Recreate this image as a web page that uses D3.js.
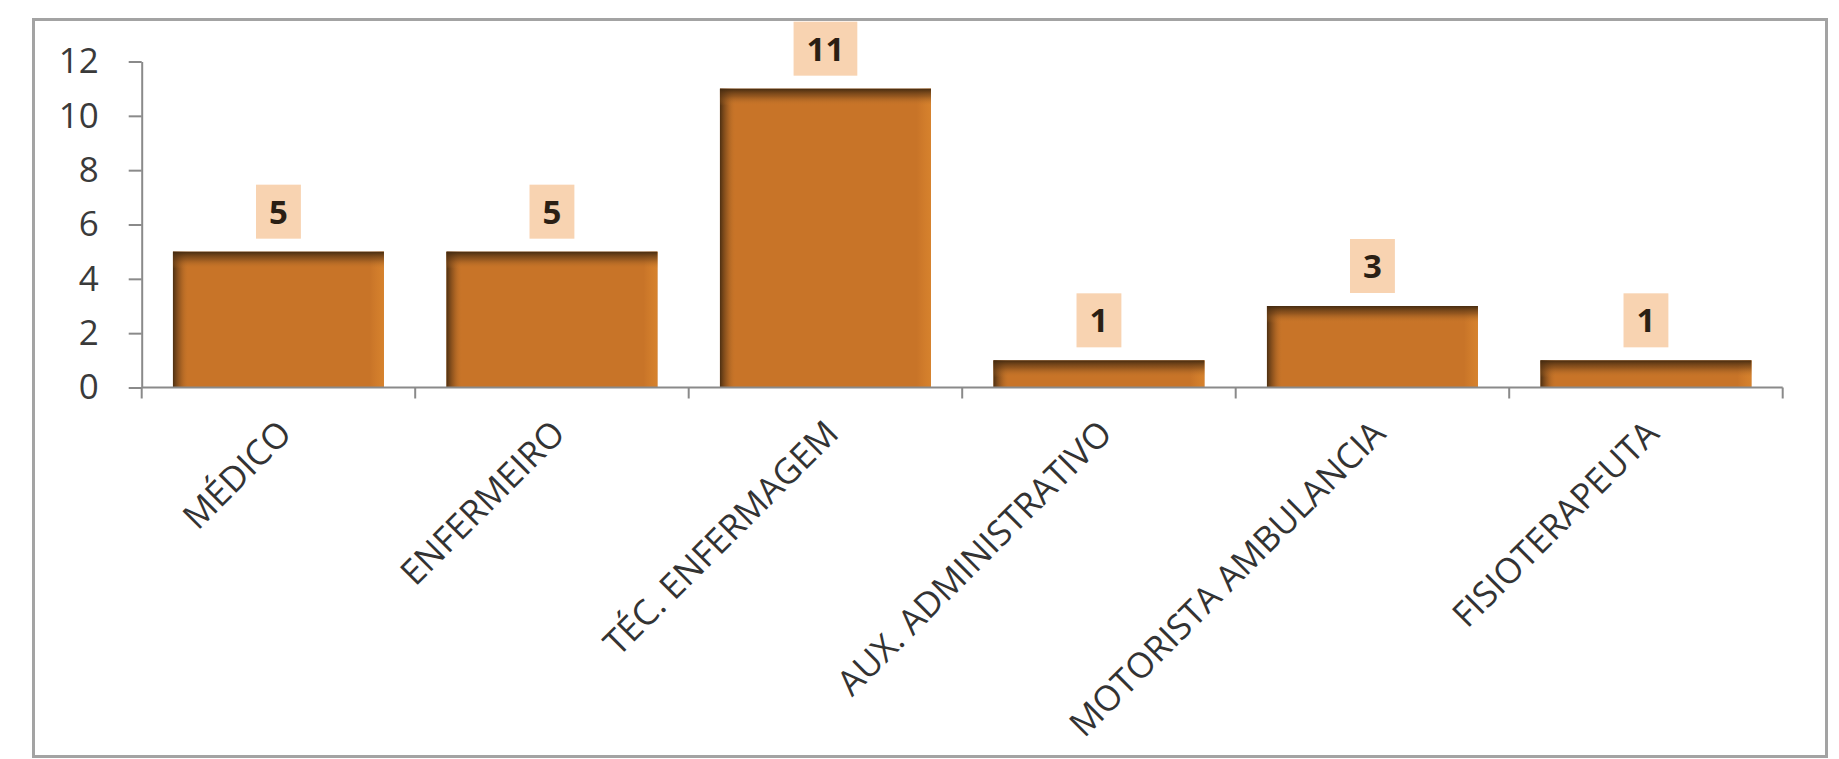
<!DOCTYPE html>
<html>
<head>
<meta charset="utf-8">
<script src="https://cdn.jsdelivr.net/npm/d3@7"></script>
<style>
  html, body { margin: 0; padding: 0; background: #ffffff; }
  svg { display: block; }
</style>
</head>
<body>
<svg id="chart" width="1839" height="759"></svg>
<script>
// ---- data ----
const categories = ["MÉDICO", "ENFERMEIRO", "TÉC. ENFERMAGEM", "AUX. ADMINISTRATIVO", "MOTORISTA AMBULANCIA", "FISIOTERAPEUTA"];
const values = [5, 5, 11, 1, 3, 1];
const yTicks = [0, 2, 4, 6, 8, 10, 12];

// ---- layout ----
const W = 1839, H = 759;
const plot = { left: 141.7, right: 1782.7, top: 61.5, bottom: 387.5 };
const FONT = "'Open Sans', 'Liberation Sans', sans-serif";

const svg = d3.select("#chart");

// gradients for bevel-like shading
const defs = svg.append("defs");
const gTop = defs.append("linearGradient").attr("id", "gTop")
  .attr("x1", 0).attr("y1", 0).attr("x2", 0).attr("y2", 1);
gTop.append("stop").attr("offset", "0%").attr("stop-color", "#40280f").attr("stop-opacity", 0.95);
gTop.append("stop").attr("offset", "45%").attr("stop-color", "#6a3f18").attr("stop-opacity", 0.55);
gTop.append("stop").attr("offset", "100%").attr("stop-color", "#c97a2c").attr("stop-opacity", 0);
const gLeft = defs.append("linearGradient").attr("id", "gLeft")
  .attr("x1", 0).attr("y1", 0).attr("x2", 1).attr("y2", 0);
gLeft.append("stop").attr("offset", "0%").attr("stop-color", "#40280f").attr("stop-opacity", 0.9);
gLeft.append("stop").attr("offset", "45%").attr("stop-color", "#6a3f18").attr("stop-opacity", 0.45);
gLeft.append("stop").attr("offset", "100%").attr("stop-color", "#c97a2c").attr("stop-opacity", 0);
const gRight = defs.append("linearGradient").attr("id", "gRight")
  .attr("x1", 0).attr("y1", 0).attr("x2", 1).attr("y2", 0);
gRight.append("stop").attr("offset", "0%").attr("stop-color", "#e08a30").attr("stop-opacity", 0);
gRight.append("stop").attr("offset", "100%").attr("stop-color", "#d9852e").attr("stop-opacity", 0.8);

// outer border
svg.append("rect")
  .attr("x", 33.5).attr("y", 19.5)
  .attr("width", 1793).attr("height", 737)
  .attr("fill", "#ffffff")
  .attr("stroke", "#a3a3a3").attr("stroke-width", 3);

// ---- scales ----
const x = d3.scaleBand()
  .domain(categories)
  .range([plot.left, plot.right])
  .paddingInner(0.2285)
  .paddingOuter(0.11425);

const y = d3.scaleLinear()
  .domain([0, 12])
  .range([plot.bottom, plot.top]);

const step = x.step();

// ---- y axis ----
const yAxis = svg.append("g")
  .attr("transform", `translate(${plot.left},0)`)
  .call(d3.axisLeft(y).tickValues(yTicks).tickSize(13).tickPadding(30).tickSizeOuter(0));
yAxis.select(".domain").attr("stroke", "#8a8a8a").attr("stroke-width", 2);
yAxis.selectAll(".tick line").attr("stroke", "#8a8a8a").attr("stroke-width", 2);
yAxis.selectAll(".tick text")
  .attr("font-family", FONT).attr("font-size", 35).attr("fill", "#3a3a3a");

// ---- bars ----
const bars = svg.append("g");
categories.forEach((c, i) => {
  const bx = x(c), bw = x.bandwidth();
  const by = y(values[i]), bh = y(0) - y(values[i]);
  bars.append("rect").attr("x", bx).attr("y", by).attr("width", bw).attr("height", bh)
    .attr("fill", "#c87428");
  bars.append("rect").attr("x", bw - 14 + bx).attr("y", by).attr("width", 14).attr("height", bh)
    .attr("fill", "url(#gRight)");
  bars.append("rect").attr("x", bx).attr("y", by).attr("width", 16).attr("height", bh)
    .attr("fill", "url(#gLeft)");
  bars.append("rect").attr("x", bx).attr("y", by).attr("width", bw).attr("height", Math.min(17, bh))
    .attr("fill", "url(#gTop)");
});

// ---- x axis ----
const xAxisG = svg.append("g");
xAxisG.append("line")
  .attr("x1", plot.left).attr("x2", plot.right)
  .attr("y1", y(0)).attr("y2", y(0))
  .attr("stroke", "#8a8a8a").attr("stroke-width", 2);
const boundaries = categories.map(c => x(c) - step * x.paddingInner() / 2)
  .concat([x(categories[categories.length - 1]) + x.bandwidth() + step * x.paddingInner() / 2]);
boundaries.forEach(bx => {
  xAxisG.append("line")
    .attr("x1", bx).attr("x2", bx)
    .attr("y1", y(0)).attr("y2", y(0) + 11)
    .attr("stroke", "#8a8a8a").attr("stroke-width", 2);
});

// x labels (rotated)
categories.forEach(c => {
  const cx = x(c) + x.bandwidth() / 2;
  svg.append("text")
    .attr("transform", `translate(${cx + 15},${y(0) + 48}) rotate(-45)`)
    .attr("text-anchor", "end")
    .attr("font-family", FONT).attr("font-size", 35).attr("fill", "#333333")
    .text(c);
});

// ---- data labels ----
const labels = svg.append("g");
categories.forEach((c, i) => {
  const cx = x(c) + x.bandwidth() / 2;
  const top = y(values[i]);
  const t = labels.append("text")
    .attr("x", cx).attr("y", top - 13 - 27 + 12)
    .attr("text-anchor", "middle")
    .attr("font-family", FONT).attr("font-weight", "bold").attr("font-size", 33)
    .attr("fill", "#2b1f14")
    .text(values[i]);
  const tw = t.node().getComputedTextLength();
  labels.insert("rect", "text")
    .attr("x", cx - tw / 2 - 13).attr("y", top - 13 - 54)
    .attr("width", tw + 26).attr("height", 54)
    .attr("fill", "#f8d3b1");
});
</script>
</body>
</html>
